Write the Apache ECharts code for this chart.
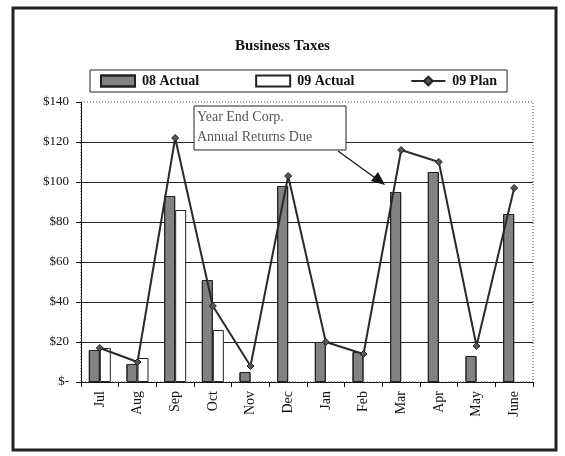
<!DOCTYPE html>
<html>
<head>
<meta charset="utf-8">
<script src="https://cdn.jsdelivr.net/npm/echarts@6/dist/echarts.min.js"></script>
<style>
html,body{margin:0;padding:0;background:#fff;}
#c{width:565px;height:456px;}
</style>
</head>
<body>
<div id="c"></div>
<script>
var categories = ['Jul','Aug','Sep','Oct','Nov','Dec','Jan','Feb','Mar','Apr','May','June'];
var actual08 = [16, 9, 93, 51, 5, 98, 20, 15, 95, 105, 13, 84];
var actual09 = [17, 12, 86, 26, null, null, null, null, null, null, null, null];
var plan09 = [17, 10, 122, 38, 8, 103, 20, 14, 116, 110, 18, 97];
var yTicks = [0, 20, 40, 60, 80, 100, 120, 140];

var serif = '"Liberation Serif","DejaVu Serif",serif';
var chart = echarts.init(document.getElementById('c'));
chart.setOption({
  animation: false,
  backgroundColor: '#fff',
  title: {
    text: 'Business Taxes',
    left: 'center',
    top: 34,
    textStyle: {fontFamily: serif, fontSize: 15, fontWeight: 'bold', color: '#111'}
  },
  legend: {
    left: 90,
    top: 70,
    padding: [4, 10, 4, 10],
    itemGap: 56,
    itemWidth: 34,
    itemHeight: 11,
    borderColor: '#222',
    borderWidth: 1,
    textStyle: {fontFamily: serif, fontSize: 14, fontWeight: 'bold', color: '#111', padding: [0, 0, 0, 2]},
    data: [
      {name: '08 Actual', icon: 'rect'},
      {name: '09 Actual', icon: 'rect'},
      {name: '09 Plan'}
    ]
  },
  grid: {left: 81, right: 32, top: 102, bottom: 74, show: false},
  xAxis: {
    type: 'category',
    data: categories,
    axisLine: {lineStyle: {color: '#111'}},
    axisTick: {show: true, inside: false, length: 5, lineStyle: {color: '#111'}},
    axisLabel: {rotate: 90, fontFamily: serif, fontSize: 14, color: '#111', margin: 9}
  },
  yAxis: {
    type: 'value',
    min: 0,
    max: 140,
    interval: 20,
    axisLine: {show: true, lineStyle: {color: '#111'}},
    axisTick: {show: true, length: 5, lineStyle: {color: '#111'}},
    splitLine: {showMaxLine: false, lineStyle: {color: '#222', width: 1}},
    axisLabel: {
      fontFamily: serif, fontSize: 13, color: '#111', margin: 12,
      formatter: function (v) { return yTicks.indexOf(v) >= 0 ? (v === 0 ? '$-' : '$' + v) : ''; }
    }
  },
  series: [
    {
      name: '08 Actual',
      type: 'bar',
      data: actual08,
      barWidth: 11,
      barGap: '0%',
      itemStyle: {color: '#858585', borderColor: '#222', borderWidth: 1,
        decal: {symbol: 'rect', symbolSize: 0.5, dashArrayX: [1, 1], dashArrayY: [1, 1], color: 'rgba(50,50,50,0.45)'}}
    },
    {
      name: '09 Actual',
      type: 'bar',
      data: actual09,
      barWidth: 11,
      barGap: '0%',
      itemStyle: {color: '#fff', borderColor: '#222', borderWidth: 1}
    },
    {
      name: '09 Plan',
      type: 'line',
      data: plan09,
      symbol: 'diamond',
      symbolSize: 7,
      lineStyle: {color: '#2a2a2a', width: 2},
      itemStyle: {color: '#555', borderColor: '#222', borderWidth: 1},
      z: 5
    }
  ],
  graphic: [
    {type: 'rect', shape: {x: 81, y: 102, width: 452, height: 280}, style: {fill: 'none', stroke: '#444', lineWidth: 1, lineDash: [1, 2]}, z: 1, silent: true},
    {type: 'rect', shape: {x: 13, y: 8, width: 543, height: 442}, style: {fill: 'none', stroke: '#222', lineWidth: 3}, z: 100},
    {type: 'rect', shape: {x: 194, y: 106, width: 152, height: 44}, style: {fill: '#fff', stroke: '#222', lineWidth: 1}, z: 50},
    {type: 'text', left: 197, top: 110, style: {text: 'Year End Corp.', font: '14px ' + serif, fill: '#555'}, z: 51},
    {type: 'text', left: 197, top: 130, style: {text: 'Annual Returns Due', font: '14px ' + serif, fill: '#555'}, z: 51},
    {type: 'line', shape: {x1: 338, y1: 151, x2: 378, y2: 180}, style: {stroke: '#222', lineWidth: 1.5}, z: 50},
    {type: 'polygon', shape: {points: [[385, 185], [371, 181], [378, 172]]}, style: {fill: '#111'}, z: 50}
  ]
});
</script>
</body>
</html>
